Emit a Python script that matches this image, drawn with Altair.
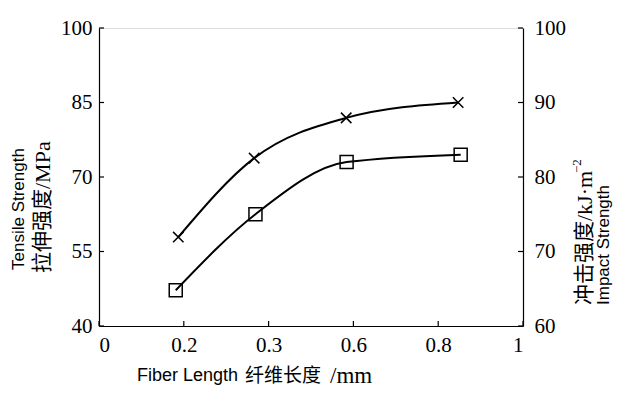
import altair as alt
import pandas as pd

# ---- data ----
tensile_x = [0.187, 0.366, 0.583, 0.847]
tensile_y = [57.9, 73.8, 81.9, 85.0]
impact_x = [0.181, 0.369, 0.584, 0.853]
impact_y = [64.8, 75.0, 82.0, 83.0]

x_tick_vals = [0, 0.2, 0.4, 0.6, 0.8, 1]
x_tick_labels = ["0", "0.2", "0.3", "0.6", "0.8", "1"]
left_ticks = [40, 55, 70, 85, 100]
right_ticks = [60, 70, 80, 90, 100]

W, H = 424, 298
SANS = "Liberation Sans, Noto Sans CJK SC"
CJK = "Noto Sans CJK SC"

tens = pd.DataFrame({"x": tensile_x, "y": tensile_y})
imp = pd.DataFrame({"x": impact_x, "y": impact_y})

label_expr = "".join(
    f"abs(datum.value-{v})<1e-6 ? '{l}' : " for v, l in zip(x_tick_vals, x_tick_labels)
) + "''"

xscale = alt.Scale(domain=[0, 1], nice=False, zero=False)
lscale = alt.Scale(domain=[40, 100], nice=False, zero=False)
rscale = alt.Scale(domain=[60, 100], nice=False, zero=False)

common = dict(title=None, grid=False, ticks=False, domainColor="black", domainWidth=1.2,
              labelFont="Liberation Serif", labelFontSize=21, labelColor="black")
x_axis = alt.Axis(values=x_tick_vals, labelExpr=label_expr, labelPadding=8, **common)
l_axis = alt.Axis(values=left_ticks, labelPadding=7, **common)
r_axis = alt.Axis(values=right_ticks, orient="right", labelPadding=11, **common)

cross_path = "M-1,-1L1,1M-1,1L1,-1"

t_base = alt.Chart(tens).encode(x=alt.X("x:Q", scale=xscale, axis=x_axis),
                                y=alt.Y("y:Q", scale=lscale, axis=l_axis))
t_line = t_base.mark_line(color="black", strokeWidth=2, interpolate="monotone")
t_pts = t_base.mark_point(shape=cross_path, size=110, color="black", strokeWidth=1.5, opacity=1)

l_ticks = alt.Chart(pd.DataFrame({"y": left_ticks})).mark_rule(
    color="black", strokeWidth=1.2).encode(
    y=alt.Y("y:Q", scale=lscale, axis=l_axis), x=alt.value(0), x2=alt.value(5))
b_ticks = alt.Chart(pd.DataFrame({"x": x_tick_vals})).mark_rule(
    color="black", strokeWidth=1.2).encode(
    x=alt.X("x:Q", scale=xscale, axis=x_axis), y=alt.value(H), y2=alt.value(H - 5))

left_group = alt.layer(t_line, t_pts, l_ticks, b_ticks)

i_base = alt.Chart(imp).encode(x=alt.X("x:Q", scale=xscale, axis=x_axis),
                               y=alt.Y("y:Q", scale=rscale, axis=r_axis))
i_line = i_base.mark_line(color="black", strokeWidth=2, interpolate="monotone")
i_pts = i_base.mark_point(shape="square", size=169, color="black", strokeWidth=1.5,
                          filled=False, opacity=1)
r_ticks = alt.Chart(pd.DataFrame({"y": right_ticks})).mark_rule(
    color="black", strokeWidth=1.2).encode(
    y=alt.Y("y:Q", scale=rscale, axis=r_axis), x=alt.value(W), x2=alt.value(W - 5))

right_group = alt.layer(i_line, i_pts, r_ticks)

one = pd.DataFrame({"a": [0]})


def txt(text, x, y, font, size, angle=0, align="center"):
    kw = dict(text=text, font=font, fontSize=size, align=align, baseline="middle",
              color="black")
    if angle:
        kw["angle"] = angle
    return alt.Chart(one).mark_text(**kw).encode(x=alt.value(x), y=alt.value(y))


titles = alt.layer(
    # left axis title
    txt("Tensile  Strength", -80, 242, SANS, 17, angle=270, align="left"),
    txt("拉伸强度", -56, 245, CJK, 21, angle=270, align="left"),
    txt("/MPa", -56, 161, "Liberation Serif", 22, angle=270, align="left"),
    # right axis title
    txt("冲击强度", 486, 277, CJK, 21, angle=270, align="left"),
    txt("/kJ·m", 486, 193, "Liberation Serif", 22, angle=270, align="left"),
    txt("−2", 478, 145, "Liberation Serif", 13, angle=270, align="left"),
    txt("Impact Strength", 505, 277, SANS, 17, angle=270, align="left"),
    # x axis title
    txt("Fiber Length", 38, 348, SANS, 18, align="left"),
    txt("纤维长度", 146, 348, CJK, 19, align="left"),
    txt("/mm", 231, 348, "Liberation Serif", 23, align="left"),
)

chart = alt.layer(left_group, right_group, titles).resolve_scale(y="independent").properties(
    width=W, height=H,
    autosize=alt.AutoSizeParams(type="none"),
    padding={"left": 91, "top": 20, "right": 106, "bottom": 66},
).configure_view(strokeWidth=0).configure(background="white")

chart.save("out.html", embed_options={"renderer": "svg", "actions": False})
